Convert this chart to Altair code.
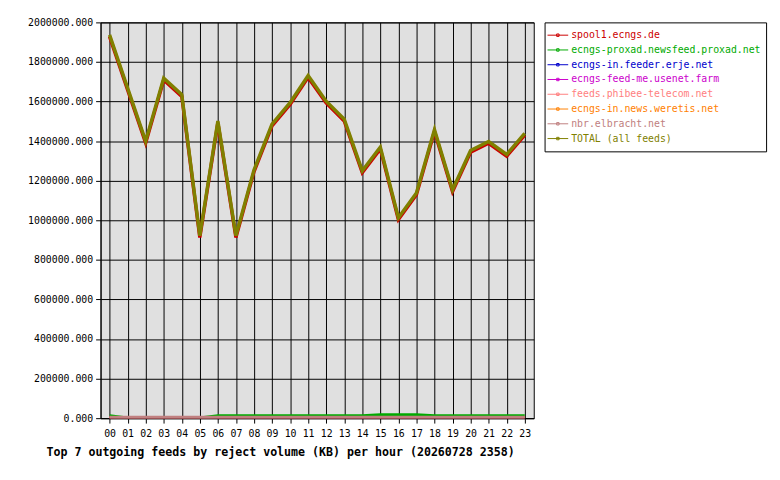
import altair as alt
import pandas as pd

MONO = "DejaVu Sans Mono"

hours = ["00", "01", "02", "03", "04", "05", "06", "07", "08", "09", "10", "11",
         "12", "13", "14", "15", "16", "17", "18", "19", "20", "21", "22", "23"]

series_names = [
    "spool1.ecngs.de",
    "ecngs-proxad.newsfeed.proxad.net",
    "ecngs-in.feeder.erje.net",
    "ecngs-feed-me.usenet.farm",
    "feeds.phibee-telecom.net",
    "ecngs-in.news.weretis.net",
    "nbr.elbracht.net",
    "TOTAL (all feeds)",
]
series_colors = ["#cc0000", "#00aa00", "#0000cc", "#cc00cc",
                 "#ff8080", "#ff8000", "#c08080", "#808000"]

spool1 = [1928000, 1659000, 1391000, 1709000, 1626000, 913000, 1493000, 913000,
          1245000, 1477000, 1585000, 1722000, 1593000, 1502000, 1241000, 1361000,
          1004000, 1129000, 1449000, 1145000, 1344000, 1389000, 1324000, 1430000]
proxad = [11000, 0, 0, 0, 0, 0, 11000, 11000, 11000, 11000, 11000, 11000,
          11000, 11000, 11000, 16000, 16000, 16000, 11000, 11000, 11000, 11000, 11000, 11000]
erje = [0, 0, 0, 0, 0, 0, 0, 0, 0, 0, 0, 0, 0, 0, 0, 0, 0, 0, 0, 0, 0, 0, 0, 0]
feedme = [0, 0, 0, 0, 0, 0, 0, 0, 0, 0, 0, 0, 0, 0, 0, 0, 0, 0, 0, 0, 0, 0, 0, 0]
phibee = [0, 0, 0, 0, 0, 0, 0, 0, 0, 0, 0, 0, 0, 0, 0, 0, 0, 0, 0, 0, 0, 0, 0, 0]
weretis = [0, 0, 0, 0, 0, 0, 0, 0, 0, 0, 0, 0, 0, 0, 0, 0, 0, 0, 0, 0, 0, 0, 0, 0]
elbracht = [4000, 4000, 4000, 4000, 4000, 4000, 4000, 4000, 4000, 4000, 4000, 4000,
            4000, 4000, 4000, 4000, 4000, 4000, 4000, 4000, 4000, 4000, 4000, 4000]
total = [1937000, 1668000, 1400000, 1718000, 1635000, 922000, 1502000, 922000,
         1254000, 1486000, 1594000, 1731000, 1602000, 1511000, 1250000, 1370000,
         1013000, 1138000, 1458000, 1154000, 1353000, 1398000, 1333000, 1439000]

y_ticks = [0, 200000, 400000, 600000, 800000, 1000000, 1200000, 1400000,
           1600000, 1800000, 2000000]

title_text = "Top 7 outgoing feeds by reject volume (KB) per hour (20260728 2358)"

all_values = [spool1, proxad, erje, feedme, phibee, weretis, elbracht, total]
rows = []
for name, vals in zip(series_names, all_values):
    for h, v in zip(hours, vals):
        rows.append({"series": name, "hour": h, "value": v})
df = pd.DataFrame(rows)

color_scale = alt.Scale(domain=series_names, range=series_colors)

plot = alt.Chart(df).mark_line(strokeWidth=3.5, clip=True).encode(
    x=alt.X("hour:O", sort=hours,
            scale=alt.Scale(type="point", padding=0.5),
            axis=alt.Axis(title=None, grid=True, gridColor="black", gridOpacity=1,
                          gridWidth=1, labelAngle=0, tickSize=5, tickColor="black",
                          domainColor="black", labelFont=MONO, labelFontSize=10,
                          labelColor="black", labelPadding=6)),
    y=alt.Y("value:Q",
            scale=alt.Scale(domain=[0, 2000000], nice=False, zero=True),
            axis=alt.Axis(title=None, values=y_ticks, format=".3f", grid=True,
                          gridColor="black", gridOpacity=1, gridWidth=1,
                          tickSize=5, tickColor="black", domainColor="black",
                          labelFont=MONO, labelFontSize=10, labelColor="black",
                          labelPadding=3)),
    color=alt.Color("series:N", scale=color_scale, legend=None),
    detail="series:N",
).properties(
    width=440, height=402,
    view=alt.ViewBackground(fill="#e0e0e0", stroke="black", strokeWidth=1),
    title=alt.TitleParams(title_text, orient="bottom", anchor="middle", frame="bounds",
                          font=MONO, fontSize=11.8, fontWeight="bold", color="black",
                          offset=8),
)

leg_df = pd.DataFrame({"series": series_names, "i": list(range(len(series_names)))})
ysc = alt.Scale(domain=[-0.8667, 7.8667], reverse=True, nice=False, zero=False)

leg_rule = alt.Chart(leg_df).mark_rule(strokeWidth=1).encode(
    x=alt.value(3), x2=alt.value(24),
    y=alt.Y("i:Q", scale=ysc, axis=None),
    color=alt.Color("series:N", scale=color_scale, legend=None),
)
leg_mark = alt.Chart(leg_df).mark_point(shape="square", size=6, filled=False,
                                        strokeWidth=1, opacity=1).encode(
    x=alt.value(13.5),
    y=alt.Y("i:Q", scale=ysc, axis=None),
    color=alt.Color("series:N", scale=color_scale, legend=None),
)
leg_text = alt.Chart(leg_df).mark_text(align="left", baseline="middle", font=MONO,
                                       fontSize=10).encode(
    x=alt.value(27),
    y=alt.Y("i:Q", scale=ysc, axis=None),
    text="series:N",
    color=alt.Color("series:N", scale=color_scale, legend=None),
)
legend = alt.layer(leg_rule, leg_mark, leg_text).properties(
    width=225, height=131,
    view=alt.ViewBackground(fill="white", stroke="black", strokeWidth=1),
)

chart = alt.hconcat(plot, legend, spacing=11, bounds="flush").properties(
    padding={"left": 19, "top": 5, "right": 5, "bottom": 5},
    background="white",
)

chart.save("out.html", embed_options={"renderer": "svg", "actions": False})
